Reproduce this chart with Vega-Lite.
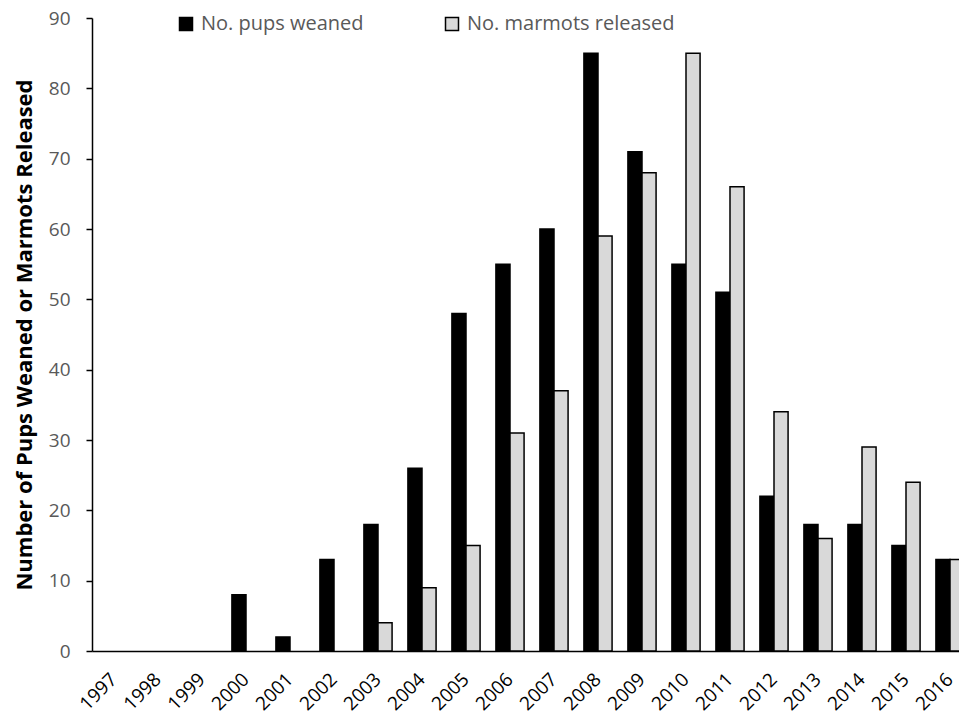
{
  "$schema": "https://vega.github.io/schema/vega-lite/v6.json",
  "width": 867,
  "height": 633,
  "autosize": {"type": "none"},
  "padding": {"left": 92, "top": 18, "right": 0, "bottom": 66},
  "background": "white",
  "config": {
    "view": {"stroke": null},
    "font": "Open Sans"
  },
  "data": {
    "values": [
      {"year": "2000", "series": "No. pups weaned", "value": 8},
      {"year": "2001", "series": "No. pups weaned", "value": 2},
      {"year": "2002", "series": "No. pups weaned", "value": 13},
      {"year": "2003", "series": "No. pups weaned", "value": 18},
      {"year": "2004", "series": "No. pups weaned", "value": 26},
      {"year": "2005", "series": "No. pups weaned", "value": 48},
      {"year": "2006", "series": "No. pups weaned", "value": 55},
      {"year": "2007", "series": "No. pups weaned", "value": 60},
      {"year": "2008", "series": "No. pups weaned", "value": 85},
      {"year": "2009", "series": "No. pups weaned", "value": 71},
      {"year": "2010", "series": "No. pups weaned", "value": 55},
      {"year": "2011", "series": "No. pups weaned", "value": 51},
      {"year": "2012", "series": "No. pups weaned", "value": 22},
      {"year": "2013", "series": "No. pups weaned", "value": 18},
      {"year": "2014", "series": "No. pups weaned", "value": 18},
      {"year": "2015", "series": "No. pups weaned", "value": 15},
      {"year": "2016", "series": "No. pups weaned", "value": 13},
      {"year": "2003", "series": "No. marmots released", "value": 4},
      {"year": "2004", "series": "No. marmots released", "value": 9},
      {"year": "2005", "series": "No. marmots released", "value": 15},
      {"year": "2006", "series": "No. marmots released", "value": 31},
      {"year": "2007", "series": "No. marmots released", "value": 37},
      {"year": "2008", "series": "No. marmots released", "value": 59},
      {"year": "2009", "series": "No. marmots released", "value": 68},
      {"year": "2010", "series": "No. marmots released", "value": 85},
      {"year": "2011", "series": "No. marmots released", "value": 66},
      {"year": "2012", "series": "No. marmots released", "value": 34},
      {"year": "2013", "series": "No. marmots released", "value": 16},
      {"year": "2014", "series": "No. marmots released", "value": 29},
      {"year": "2015", "series": "No. marmots released", "value": 24},
      {"year": "2016", "series": "No. marmots released", "value": 13}
    ]
  },
  "mark": {"type": "bar", "stroke": "#000000", "strokeWidth": 1.5, "clip": false},
  "encoding": {
    "x": {
      "field": "year",
      "type": "nominal",
      "scale": {
        "domain": ["1997","1998","1999","2000","2001","2002","2003","2004","2005","2006","2007","2008","2009","2010","2011","2012","2013","2014","2015","2016"],
        "range": [0, 880],
        "paddingInner": 0.36,
        "paddingOuter": 0.18
      },
      "axis": {
        "title": null,
        "labelAngle": -45,
        "labelAlign": "right",
        "labelBaseline": "middle",
        "labelFontSize": 19,
        "labelColor": "#000000",
        "labelPadding": 25,
        "labelOffset": 0,
        "ticks": false,
        "domainColor": "#000000",
        "domainWidth": 1.5
      }
    },
    "xOffset": {
      "field": "series",
      "type": "nominal",
      "scale": {"domain": ["No. pups weaned", "No. marmots released"]}
    },
    "y": {
      "field": "value",
      "type": "quantitative",
      "scale": {"domain": [0, 90], "nice": false},
      "axis": {
        "title": "Number  of Pups Weaned or Marmots Released",
        "titleFontSize": 22,
        "titleFontWeight": "bold",
        "titleColor": "#000000",
        "titlePadding": 12,
        "titleLimit": 800,
        "values": [0,10,20,30,40,50,60,70,80,90],
        "labelFontSize": 19,
        "labelColor": "#595959",
        "labelPadding": 16,
        "tickSize": 6,
        "tickColor": "#000000",
        "tickWidth": 1.5,
        "domainColor": "#000000",
        "domainWidth": 1.5,
        "grid": false
      }
    },
    "color": {
      "field": "series",
      "type": "nominal",
      "scale": {
        "domain": ["No. pups weaned", "No. marmots released"],
        "range": ["#000000", "#d9d9d9"]
      },
      "legend": {
        "title": null,
        "orient": "none",
        "direction": "horizontal",
        "legendX": 84,
        "legendY": -4,
        "symbolType": "square",
        "symbolSize": 169,
        "symbolStrokeColor": "#000000",
        "symbolStrokeWidth": 1.5,
        "labelFontSize": 20,
        "labelColor": "#595959",
        "labelLimit": 300,
        "columnPadding": 78,
        "symbolOffset": 0,
        "labelOffset": 5
      }
    }
  }
}
